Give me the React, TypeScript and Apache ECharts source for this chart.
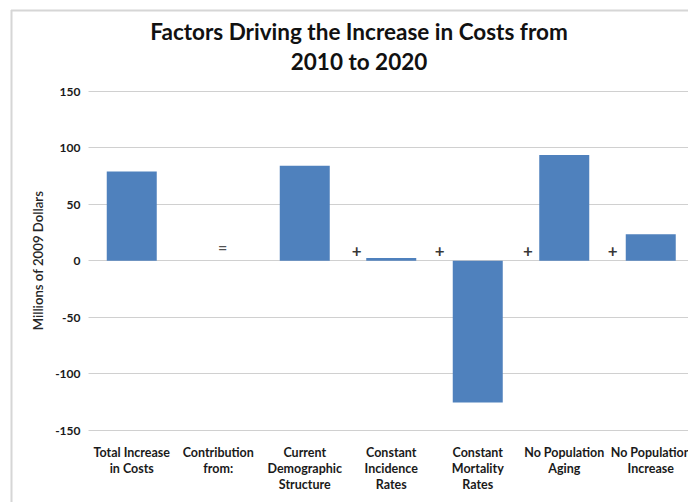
import React, { useEffect, useRef } from "react";
import * as echarts from "echarts";

const categories = [
  "Total Increase\nin Costs",
  "Contribution\nfrom:",
  "Current\nDemographic\nStructure",
  "Constant\nIncidence\nRates",
  "Constant\nMortality\nRates",
  "No Population\nAging",
  "No Population\nIncrease",
];
const values: (number | null)[] = [79, null, 84, 2.5, -125.5, 93.5, 23.5];
const plusSigns: [number, number][] = [
  [3.1, 8.6],
  [4.06, 8.6],
  [5.08, 8.6],
  [6.06, 8.6],
];
const equalsSign: [number, number][] = [[1.55, 12.4]];
const yTicks = { min: -150, max: 150, interval: 50 };

export default function App() {
  const ref = useRef<HTMLDivElement>(null);
  useEffect(() => {
    document.body.style.margin = "0";
    const chart = echarts.init(ref.current!, null, { renderer: "svg" });
    const font = "Lato, 'Open Sans', sans-serif";
    chart.setOption({
      animation: false,
      backgroundColor: "#ffffff",
      title: {
        text: "Factors Driving the Increase in Costs from\n2010 to 2020",
        left: 354,
        top: 11,
        textAlign: "center",
        textStyle: {
          fontFamily: font,
          fontSize: 22.5,
          fontWeight: "bold",
          color: "#111111",
          lineHeight: 30,
        },
      },
      grid: { left: 88.5, right: -4, top: 91.2, bottom: 71.8, containLabel: false },
      xAxis: [
        {
          type: "category",
          data: categories,
          axisLine: { show: false, onZero: false },
          axisTick: { show: false },
          axisLabel: {
            interval: 0,
            margin: 14,
            fontFamily: font,
            fontSize: 12.5,
            fontWeight: "bold",
            lineHeight: 16,
            color: "#1a1a1a",
          },
        },
        {
          type: "value",
          min: 0,
          max: 7,
          show: false,
        },
      ],
      yAxis: {
        type: "value",
        min: yTicks.min,
        max: yTicks.max,
        interval: yTicks.interval,
        name: "Millions of 2009 Dollars",
        nameLocation: "middle",
        nameGap: 43,
        nameTextStyle: {
          fontFamily: font,
          fontSize: 13.2,
          fontWeight: 600,
          color: "#262626",
        },
        axisLine: { show: false },
        axisTick: { show: false },
        axisLabel: {
          margin: 8,
          fontFamily: font,
          fontSize: 12,
          fontWeight: "bold",
          color: "#1a1a1a",
        },
        splitLine: { lineStyle: { color: "#d0d0d0", width: 1 } },
      },
      series: [
        {
          type: "bar",
          data: values,
          barWidth: 50,
          itemStyle: { color: "#4F81BD" },
        },
        {
          type: "scatter",
          xAxisIndex: 1,
          data: plusSigns,
          symbolSize: 0,
          label: {
            show: true,
            position: "inside",
            formatter: "+",
            fontFamily: font,
            fontSize: 17,
            fontWeight: "bold",
            color: "#000000",
          },
        },
        {
          type: "scatter",
          xAxisIndex: 1,
          data: equalsSign,
          symbolSize: 0,
          label: {
            show: true,
            position: "inside",
            formatter: "=",
            fontFamily: font,
            fontSize: 16,
            fontWeight: "bold",
            color: "#222222",
          },
        },
      ],
      graphic: [
        {
          type: "rect",
          z: 100,
          shape: { x: 688, y: 0, width: 10, height: 502 },
          style: { fill: "#ffffff" },
        },
        {
          type: "line",
          z: 101,
          shape: { x1: 11, y1: 10.5, x2: 688, y2: 10.5 },
          style: { stroke: "#d6d6d6", lineWidth: 2 },
        },
        {
          type: "line",
          z: 101,
          shape: { x1: 11.5, y1: 10, x2: 11.5, y2: 502 },
          style: { stroke: "#d6d6d6", lineWidth: 2 },
        },
      ],
    });
    return () => chart.dispose();
  }, []);
  return <div ref={ref} style={{ width: 694, height: 502 }} />;
}
